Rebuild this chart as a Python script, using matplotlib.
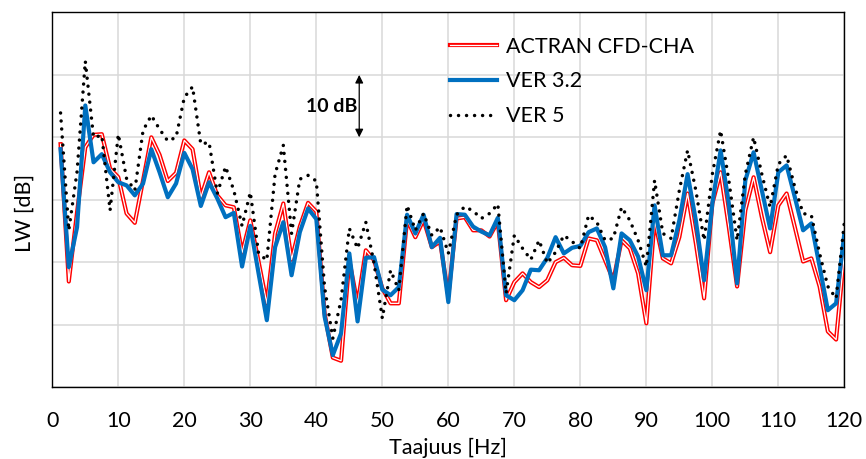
import matplotlib
matplotlib.use('Agg')
import matplotlib.pyplot as plt
import matplotlib.patheffects as pe
import numpy as np

plt.rcParams['font.family'] = ['Lato', 'DejaVu Sans']

# taajuusresoluutio 1.25 Hz, 96 pistettä
freq = np.arange(1, 97) * 1.25

actran = [38.9, 16.9, 28.0, 38.4, 40.4, 40.5, 35.0, 33.6, 27.8, 26.3,
          33.1, 40.0, 37.2, 33.0, 34.3, 39.5, 38.1, 30.4, 34.4, 30.7,
          29.1, 28.8, 21.5, 26.7, 20.1, 13.4, 24.6, 29.4, 20.4, 25.7,
          29.5, 28.1, 11.8, 4.7, 4.2, 20.3, 13.3, 21.9, 20.3, 15.8,
          13.4, 13.4, 26.8, 24.0, 26.8, 22.4, 23.3, 14.6, 27.0, 27.2,
          25.1, 25.1, 24.1, 26.5, 13.9, 16.8, 18.2, 16.8, 16.0, 17.1,
          20.0, 20.7, 19.5, 19.4, 23.8, 23.5, 20.3, 17.1, 23.5, 22.2,
          18.2, 10.2, 26.7, 20.6, 19.8, 24.0, 31.0, 23.0, 14.2, 29.4,
          34.4, 25.6, 16.1, 28.3, 33.6, 27.2, 21.6, 29.1, 31.0, 25.6,
          20.1, 20.6, 16.1, 8.9, 7.6, 21.4]

ver32 = [38.1, 19.2, 25.6, 45.1, 36.0, 37.3, 34.4, 32.8, 32.3, 30.7,
         32.6, 38.1, 34.4, 30.4, 32.6, 37.5, 34.9, 29.0, 32.8, 30.2,
         27.2, 27.9, 19.3, 25.8, 18.2, 10.7, 22.4, 26.4, 17.9, 24.8,
         28.6, 26.9, 11.3, 5.1, 8.6, 21.4, 10.5, 20.7, 20.8, 15.6,
         14.7, 16.0, 27.6, 24.6, 27.6, 22.4, 23.9, 13.6, 27.7, 27.6,
         25.7, 24.9, 24.3, 27.1, 14.7, 13.9, 15.5, 18.8, 18.7, 20.7,
         24.0, 21.4, 22.3, 22.6, 24.8, 25.4, 22.4, 15.8, 24.6, 23.5,
         20.9, 15.5, 29.1, 21.1, 21.1, 26.7, 34.1, 26.7, 17.1, 29.4,
         37.9, 29.4, 16.6, 33.1, 37.6, 31.5, 25.4, 34.4, 35.5, 30.4,
         25.1, 26.2, 19.3, 12.3, 13.4, 24.6]

ver5 = [43.9, 25.1, 34.5, 52.2, 40.0, 40.3, 28.3, 40.5, 33.4, 31.5,
        41.1, 43.5, 41.3, 39.4, 40.0, 46.4, 48.1, 38.9, 39.2, 31.0,
        35.3, 31.5, 25.8, 31.2, 21.4, 20.3, 34.1, 38.7, 24.6, 33.3,
        33.9, 33.0, 16.0, 7.8, 14.0, 25.4, 22.2, 26.4, 19.8, 11.0,
        18.7, 15.5, 29.1, 25.1, 27.8, 24.3, 25.6, 21.4, 27.6, 28.9,
        28.2, 27.0, 27.8, 29.3, 15.0, 24.3, 22.2, 20.4, 23.5, 19.8,
        21.6, 24.3, 23.3, 22.2, 27.5, 26.4, 23.5, 23.8, 28.8, 26.7,
        23.5, 19.3, 33.1, 24.6, 23.8, 31.5, 37.9, 31.5, 23.5, 34.1,
        41.1, 33.1, 23.5, 34.1, 40.0, 34.1, 28.8, 35.7, 37.1, 32.0,
        27.8, 27.5, 21.4, 16.1, 14.2, 26.4]

fig = plt.figure(figsize=(8.66, 4.59), dpi=100)
ax = fig.add_axes([0.0604, 0.1569, 0.9146, 0.8159])

ax.plot(freq, actran, color='white', lw=0.9, label='ACTRAN CFD-CHA', zorder=3,
        path_effects=[pe.Stroke(linewidth=3.0, foreground='#FF0000'), pe.Normal()])
ax.plot(freq, ver32, color='#0070C0', lw=3.0, label='VER 3.2', zorder=4)
ax.plot(freq, ver5, color='black', lw=2.5, linestyle=(0, (0.01, 2.3)),
        dash_capstyle='round', label='VER 5', zorder=5)

ax.set_xlim(0, 120)
ax.set_ylim(0, 60)
ax.set_xticks(range(0, 121, 10))
ax.set_yticks(range(0, 61, 10))
ax.set_yticklabels([])
ax.grid(color='#D9D9D9', lw=1.1)
ax.set_axisbelow(True)
ax.tick_params(length=0, labelsize=15.5, pad=17)
for s in ax.spines.values():
    s.set_linewidth(1.0)
    s.set_color('black')

ax.set_xlabel('Taajuus [Hz]', fontsize=15.5)
ax.set_ylabel('LW [dB]', fontsize=15.5)
ax.xaxis.set_label_coords(0.5, -0.135)
ax.yaxis.set_label_coords(-0.022, 0.465)

# 10 dB mittanuoli
ax.annotate('', xy=(46.5, 50), xytext=(46.5, 40),
            arrowprops=dict(arrowstyle='<|-|>', color='black', lw=0.9,
                            mutation_scale=12, shrinkA=0, shrinkB=0))
ax.text(46.3, 45, '10 dB', ha='right', va='center', fontsize=14, fontweight='bold')

ax.legend(loc='upper left', bbox_to_anchor=(0.502, 0.935), frameon=False, fontsize=15.5,
          handlelength=2.2, handletextpad=0.4, labelspacing=0.68,
          borderpad=0, borderaxespad=0)

fig.savefig('out.png', dpi=100)
